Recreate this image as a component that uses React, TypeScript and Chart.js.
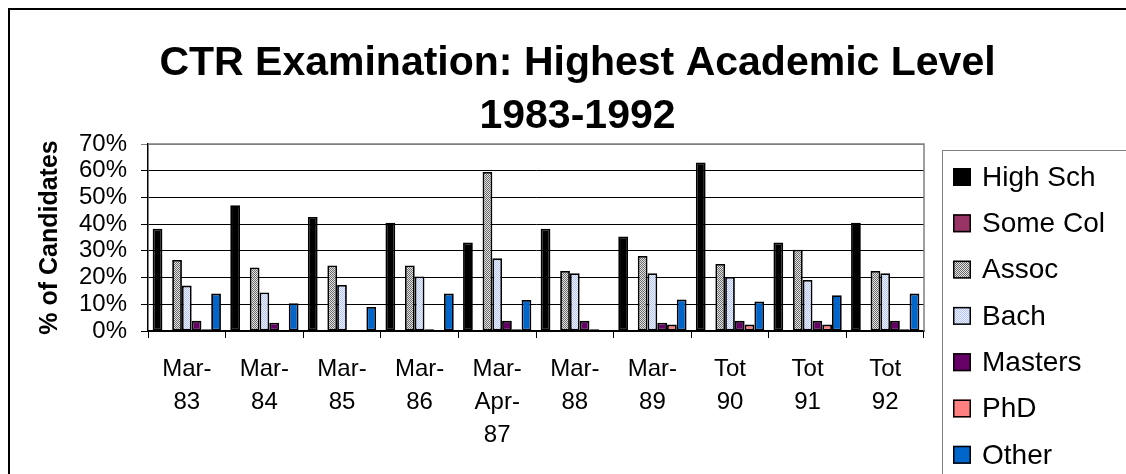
import React, { useEffect, useRef } from 'react';
import { Chart, registerables } from 'chart.js';

Chart.register(...registerables);

const FONT = "'Liberation Sans', Arial, Helvetica, sans-serif";

const categories: string[][] = [
  ['Mar-', '83'],
  ['Mar-', '84'],
  ['Mar-', '85'],
  ['Mar-', '86'],
  ['Mar-', 'Apr-', '87'],
  ['Mar-', '88'],
  ['Mar-', '89'],
  ['Tot', '90'],
  ['Tot', '91'],
  ['Tot', '92'],
];

const seriesNames = ['High Sch', 'Some Col', 'Assoc', 'Bach', 'Masters', 'PhD', 'Other'];

const highSch = [38.3, 47.1, 42.7, 40.5, 33.1, 38.3, 35.4, 63.1, 33.1, 40.5];
const someCol = [null, null, null, null, null, null, null, null, null, null];
const assoc = [26.6, 23.8, 24.5, 24.5, 59.5, 22.5, 28.1, 25.1, 30.4, 22.5];
const bach = [17.0, 14.4, 17.2, 20.4, 27.2, 21.6, 21.6, 20.2, 19.1, 21.6];
const masters = [3.8, 3.1, null, 0.7, 3.8, 3.8, 3.1, 3.8, 3.8, 3.8];
const phd = [0.7, null, null, null, 0.7, 0.7, 2.4, 2.4, 2.4, 0.7];
const other = [14.0, 10.4, 9.0, 14.0, 11.6, null, 11.8, 11.0, 13.4, 14.0];

const yMax = 70;
const yStep = 10;

function makePattern(ctx: CanvasRenderingContext2D, c1: string, c2: string) {
  const cv = document.createElement('canvas');
  cv.width = 2;
  cv.height = 2;
  const x = cv.getContext('2d')!;
  x.fillStyle = c2;
  x.fillRect(0, 0, 2, 2);
  x.fillStyle = c1;
  x.fillRect(0, 0, 1, 1);
  x.fillRect(1, 1, 1, 1);
  return ctx.createPattern(cv, 'repeat') as CanvasPattern;
}

const framePlugin = {
  id: 'frame',
  beforeDraw(chart: any) {
    const { ctx } = chart;
    ctx.save();
    ctx.fillStyle = '#ffffff';
    ctx.fillRect(0, 0, chart.width, chart.height);
    ctx.restore();
  },
  afterDraw(chart: any) {
    const { ctx, chartArea } = chart;
    ctx.save();
    // outer chart border
    ctx.strokeStyle = '#000000';
    ctx.lineWidth = 2;
    ctx.strokeRect(9, 9, chart.width + 40, chart.height + 40);
    // plot area top/right border
    ctx.strokeStyle = '#808080';
    ctx.lineWidth = 1.5;
    ctx.beginPath();
    ctx.moveTo(chartArea.left, chartArea.top);
    ctx.lineTo(chartArea.right, chartArea.top);
    ctx.lineTo(chartArea.right, chartArea.bottom);
    ctx.stroke();
    // legend box
    const lx = chartArea.right + 18.5;
    const ly = chartArea.top + 6.5;
    ctx.strokeStyle = '#808080';
    ctx.lineWidth = 1;
    ctx.strokeRect(lx, ly, 600, 600);
    // legend items
    const spacing = 46.3;
    chart.data.datasets.forEach((ds: any, i: number) => {
      const cy = chartArea.top + 33 + i * spacing;
      const mx = chartArea.right + 29;
      ctx.fillStyle = ds.backgroundColor;
      ctx.fillRect(mx, cy - 9, 18, 18);
      ctx.strokeStyle = '#000000';
      ctx.lineWidth = 1.5;
      ctx.strokeRect(mx + 0.75, cy - 8.25, 16.5, 16.5);
      ctx.fillStyle = '#000000';
      ctx.font = `28px ${FONT}`;
      ctx.textBaseline = 'middle';
      ctx.textAlign = 'left';
      ctx.fillText(ds.label, chartArea.right + 58, cy + 1);
    });
    ctx.restore();
  },
};

export default function App() {
  const ref = useRef<HTMLCanvasElement | null>(null);

  useEffect(() => {
    const canvas = ref.current!;
    const ctx = canvas.getContext('2d')!;
    const assocPat = makePattern(ctx, '#6a6a6a', '#e4e4e4');
    const bachPat = makePattern(ctx, '#b4c4ff', '#eef2ff');

    const fills: any[] = ['#000000', '#993366', assocPat, bachPat, '#660066', '#ff8080', '#0066cc'];
    const values = [highSch, someCol, assoc, bach, masters, phd, other];

    const chart = new Chart(canvas, {
      type: 'bar',
      data: {
        labels: categories as any,
        datasets: seriesNames.map((name, i) => ({
          label: name,
          data: values[i] as any,
          backgroundColor: fills[i],
          borderColor: '#000000',
          borderWidth: 1.8,
          borderSkipped: false,
          categoryPercentage: 0.88,
          barPercentage: 1.0,
        })),
      },
      options: {
        animation: false,
        responsive: false,
        devicePixelRatio: 1,
        layout: { padding: { left: 29, right: 0, top: 0, bottom: 0 } },
        plugins: {
          legend: { display: false },
          tooltip: { enabled: false },
          title: {
            display: true,
            text: ['CTR Examination: Highest Academic Level', '1983-1992'],
            color: '#000000',
            font: { family: FONT, size: 41, weight: 'bold', lineHeight: 53 / 41 },
            padding: { top: 37, bottom: 1 },
          },
        },
        scales: {
          x: {
            grid: {
              display: true,
              drawOnChartArea: false,
              drawTicks: true,
              tickLength: 7,
              color: '#000000',
              offset: true,
            },
            border: { display: true, color: '#000000', width: 1.5 },
            ticks: {
              color: '#000000',
              font: { family: FONT, size: 24, lineHeight: 33 / 24 },
              padding: 15,
              maxRotation: 0,
              minRotation: 0,
              autoSkip: false,
            },
            afterFit: (s: any) => {
              s.height = 143;
            },
          },
          y: {
            min: 0,
            max: yMax,
            ticks: {
              stepSize: yStep,
              autoSkip: false,
              callback: (v: any) => `${v}%`,
              color: '#000000',
              font: { family: FONT, size: 24 },
              padding: 14,
            },
            grid: {
              color: (c: any) => (c.tick && c.tick.value === yMax ? '#808080' : '#000000'),
              lineWidth: 1,
              drawTicks: true,
              tickLength: 7,
            },
            border: { display: true, color: '#000000', width: 1.5 },
            title: {
              display: true,
              text: '% of Candidates',
              color: '#000000',
              font: { family: FONT, size: 25, weight: 'bold', lineHeight: 1.2 },
              padding: { top: 6, bottom: 0 },
            },
            afterFit: (s: any) => {
              s.width = 119;
            },
          },
          y2: {
            position: 'right',
            display: true,
            grid: { display: false, drawTicks: false },
            ticks: { display: false },
            border: { display: false },
            afterFit: (s: any) => {
              s.width = 202;
            },
          },
        },
      } as any,
      plugins: [framePlugin],
    });

    return () => {
      chart.destroy();
    };
  }, []);

  return (
    <div
      style={{
        position: 'fixed',
        left: 0,
        top: 0,
        width: 1126,
        height: 474,
        overflow: 'hidden',
        background: '#ffffff',
      }}
    >
      <canvas ref={ref} width={1126} height={474} style={{ display: 'block' }} />
    </div>
  );
}
